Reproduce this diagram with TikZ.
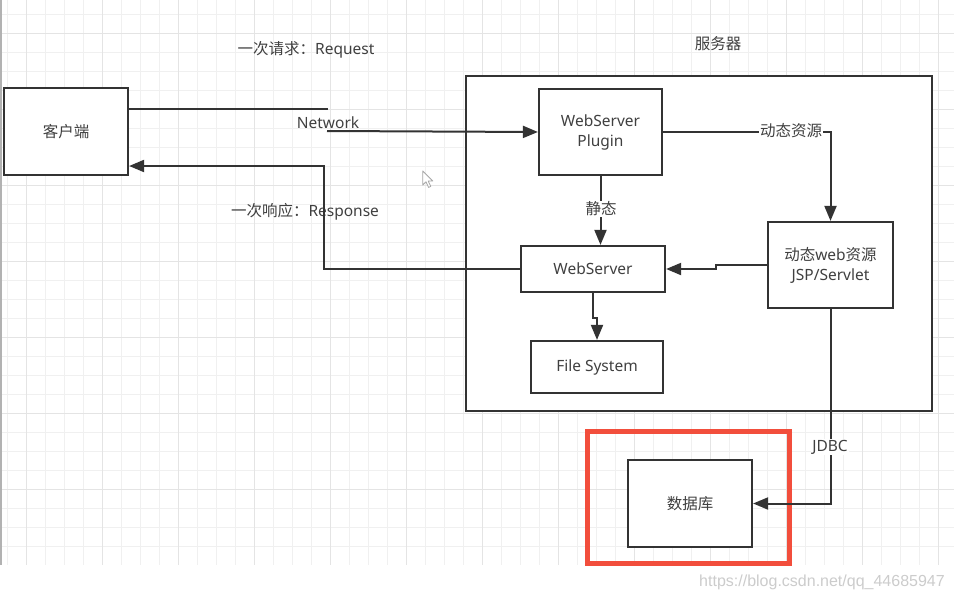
\documentclass[tikz,border=0pt]{standalone}
\usepackage{fontspec}
\setmainfont{Noto Sans}
\newfontfamily\cjk{Noto Sans CJK SC}
\newfontfamily\wmfont{Liberation Sans}
\usetikzlibrary{arrows.meta}
\definecolor{linegray}{RGB}{51,51,51}
\definecolor{textgray}{RGB}{64,64,64}
\definecolor{gridminor}{RGB}{240,240,240}
\definecolor{gridmajor}{RGB}{228,228,228}
\definecolor{redmark}{RGB}{242,78,60}
\newcommand{\diagfont}{\fontsize{15.5}{20}\selectfont}
\begin{document}
\begin{tikzpicture}[x=1pt,y=-1pt,>={Triangle[length=15pt,width=12pt]}]
	\tikzstyle{box}=[rectangle,draw=linegray,line width=2.2pt,fill=white,inner sep=0pt,font=\diagfont,text=textgray,align=center]
	\tikzstyle{conn}=[draw=linegray,line width=2pt]
	\tikzstyle{lbl}=[font=\diagfont,text=textgray,inner sep=0pt,yshift=-1.5pt]
	\tikzstyle{onlbl}=[font=\diagfont,text=textgray,fill=white,inner sep=1pt]
	\useasboundingbox (0,0) rectangle (954,602);
	\fill[white] (0,0) rectangle (954,602);
	% grid
	\foreach \k in {0,...,49} \draw[gridminor,line width=1pt] (7.3+19*\k,0) -- (7.3+19*\k,565);
	\foreach \k in {0,...,28} \draw[gridminor,line width=1pt] (0,14.3+19*\k) -- (954,14.3+19*\k);
	\foreach \k in {0,...,12} \draw[gridmajor,line width=1pt] (26.3+76*\k,0) -- (26.3+76*\k,565);
	\foreach \k in {0,...,6} \draw[gridmajor,line width=1pt] (0,33.3+76*\k) -- (954,33.3+76*\k);
	\draw[gray!60,line width=1.5pt] (1,0) -- (1,565);
	% server frame
	\node[box,minimum width=466pt,minimum height=335pt] (server) at (699,243.5) {};
	\node[lbl] (server-title) at (718,42) {\cjk 服务器};
	% boxes
	\node[box,minimum width=124pt,minimum height=87pt] (client) at (66,131.5) {\cjk 客户端};
	\node[box,minimum width=123pt,minimum height=86pt] (plugin) at (600.5,132) {WebServer\\Plugin};
	\node[box,minimum width=144pt,minimum height=46pt] (ws) at (593,269) {WebServer};
	\node[box,minimum width=132pt,minimum height=52pt] (fs) at (597,367) {File System};
	\node[box,minimum width=125pt,minimum height=86pt] (jsp) at (830.5,265) {{\cjk 动态}web{\cjk 资源}\\JSP/Servlet};
	\node[draw=redmark,line width=5pt,minimum width=202pt,minimum height=132pt] (redmark) at (688,497) {};
	\node[box,minimum width=124pt,minimum height=87pt] (db) at (690,503.5) {\cjk 数据库};
	% request / response
	\node[lbl] (req) at (306,48) {{\cjk 一次请求：}Request};
	\node[lbl] (resp) at (305,210) {{\cjk 一次响应：}Response};
	\coordinate (net-a) at (328,109);
	\coordinate (net-b) at (327,131);
	\coordinate (resp-up) at (324,166);
	\draw[conn] ([yshift=22.5pt]client.east) -- (net-a);
	\node[lbl] (network) at (328,121) {Network};
	\draw[conn,->] (net-b) -- (plugin.west);
	\draw[conn,->] (ws.west) -| (resp-up) -- ([yshift=-34.5pt]client.east);
	% inside the server
	\draw[conn,->] (plugin.east) -| (jsp.north);
	\node[onlbl] (dyn) at (791,131) {\cjk 动态资源};
	\draw[conn,->] (plugin.south) -- (plugin.south |- ws.north);
	\node[onlbl] (static) at (601,209) {\cjk 静态};
	\draw[conn,->] (jsp.west) -- ++(-51,0) |- (ws.east);
	\draw[conn,->] (ws.south) -- ++(0,25) -| (fs.north);
	\draw[conn,->] (jsp.south) |- (db.east);
	\node[onlbl] (jdbc) at (830,447) {JDBC};
	% mouse pointer
	\draw[gray!70,fill=white,line width=0.8pt,line join=round] (422.7,171) -- ++(0,14) -- ++(3.3,-3.2) -- ++(2.6,5.6) -- ++(2.2,-1) -- ++(-2.6,-5.4) -- ++(4.6,0) -- cycle;
	% watermark
	\node[font=\wmfont\fontsize{16}{18}\selectfont,text=gray!40,inner sep=0pt] (mark) at (822,582) {https://blog.csdn.net/qq\_44685947};
\end{tikzpicture}
\end{document}
